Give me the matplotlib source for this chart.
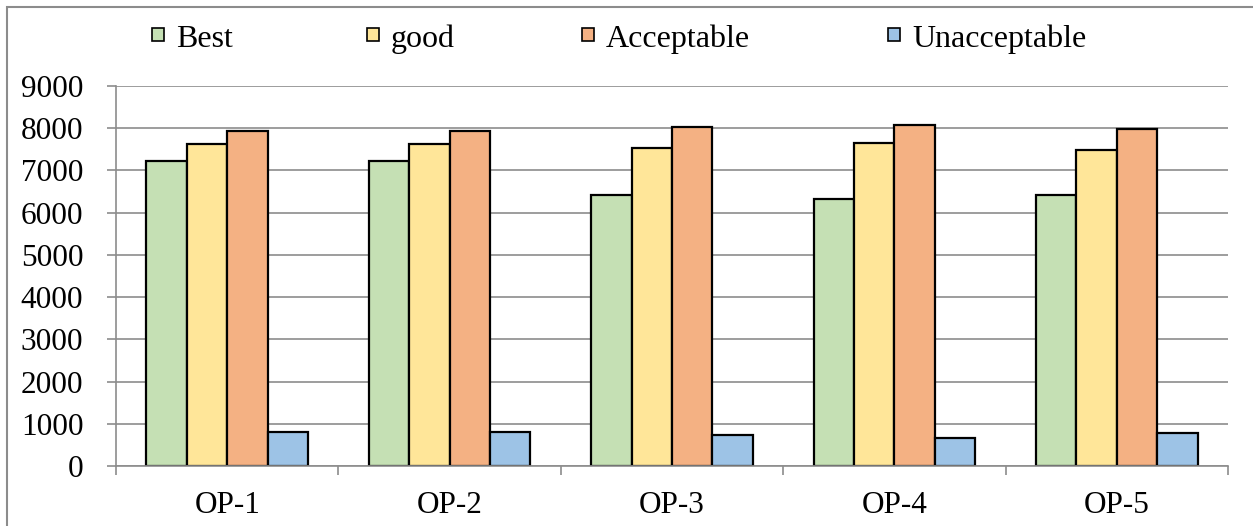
import matplotlib
matplotlib.use("Agg")
import matplotlib.pyplot as plt
from matplotlib.patches import Rectangle
import numpy as np

plt.rcParams['font.family'] = ['Liberation Serif', 'DejaVu Serif']

categories = ["OP-1", "OP-2", "OP-3", "OP-4", "OP-5"]
series_names = ["Best", "good", "Acceptable", "Unacceptable"]
best = [7225, 7225, 6425, 6325, 6420]
good = [7630, 7615, 7540, 7650, 7480]
acceptable = [7935, 7935, 8025, 8070, 7970]
unacceptable = [815, 815, 725, 675, 775]
yticks = [0, 1000, 2000, 3000, 4000, 5000, 6000, 7000, 8000, 9000]

colors = ["#C5E0B4", "#FFE699", "#F4B183", "#9DC3E6"]
grid_gray = "#8C8C8C"

W, H = 1253, 526
fig = plt.figure(figsize=(W / 100, H / 100), dpi=100)
ax = fig.add_axes([116 / W, 1 - 466 / H, (1228 - 116) / W, (466 - 86) / H])

x = np.arange(len(categories))
bw = 0.1817
values = [best, good, acceptable, unacceptable]
for i, (vals, col, name) in enumerate(zip(values, colors, series_names)):
    ax.bar(x + (i - 1.5) * bw, vals, width=bw, color=col, edgecolor="black",
           linewidth=1.6, zorder=3, label=name)

ax.set_xlim(-0.5, len(categories) - 0.5)
ax.set_ylim(0, 9000)
ax.set_yticks(yticks)
ax.set_yticklabels([str(v) for v in yticks])
ax.yaxis.grid(True, color=grid_gray, linewidth=1.2, zorder=0)
ax.set_axisbelow(True)

# category labels at centres, tick marks at category boundaries
ax.set_xticks(x)
ax.set_xticklabels(categories)
ax.set_xticks(np.arange(-0.5, len(categories), 1.0), minor=True)
ax.tick_params(axis="x", which="major", length=0, pad=18, labelsize=22.5)
ax.tick_params(axis="x", which="minor", length=6.5, width=1.2, color=grid_gray)
ax.tick_params(axis="y", length=6.5, width=1.2, color=grid_gray, pad=17, labelsize=22.5)

for side in ("top", "right"):
    ax.spines[side].set_visible(False)
for side in ("left", "bottom"):
    ax.spines[side].set_color(grid_gray)
    ax.spines[side].set_linewidth(1.2)
ax.spines["bottom"].set_zorder(4)

# legend row across the top
legend_x = [152, 367, 582, 888]
for lx, col, name in zip(legend_x, colors, series_names):
    fig.add_artist(Rectangle((lx / W, 1 - 41 / H), 12 / W, 13 / H,
                             transform=fig.transFigure, facecolor=col,
                             edgecolor="black", linewidth=1.2))
    fig.text((lx + 24) / W, 1 - 47 / H, name, fontsize=23, va="baseline", ha="left")

# outer chart frame
fig.add_artist(Rectangle((7 / W, -0.1), 2.0, 1 - 7 / H + 0.1,
                         transform=fig.transFigure, fill=False,
                         edgecolor="#8C8C8C", linewidth=1.5))

fig.savefig("out.png", dpi=100, facecolor="white")
